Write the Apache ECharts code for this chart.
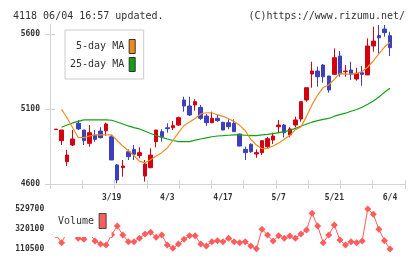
<!DOCTYPE html>
<html>
<head>
<meta charset="utf-8">
<script src="https://cdn.jsdelivr.net/npm/echarts@6/dist/echarts.min.js"></script>
<style>
  html, body { margin: 0; padding: 0; background: #fff; }
  #chart { width: 420px; height: 259px; }
</style>
</head>
<body>
<div id="chart"></div>
<script>
// 日付ラベル（10本ごとに表示）
const dates = ['3/5','3/6','3/7','3/10','3/11','3/12','3/13','3/14','3/17','3/18',
  '3/19','3/21','3/24','3/25','3/26','3/27','3/28','3/31','4/1','4/2',
  '4/3','4/4','4/7','4/8','4/9','4/10','4/11','4/14','4/15','4/16',
  '4/17','4/21','4/22','4/23','4/24','4/25','4/28','4/30','5/1','5/2',
  '5/7','5/8','5/9','5/12','5/13','5/14','5/15','5/16','5/19','5/20',
  '5/21','5/22','5/23','5/26','5/27','5/28','5/29','5/30','6/2','6/3','6/4'];

const opens  = [4963,4889,4749,4860,5005,4960,4871,4927,4953,4955,
  4915,4727,4709,4815,4831,4789,4653,4709,4882,4949,
  4975,4975,4993,5160,5120,5127,5111,5053,5009,5038,
  5011,5009,5005,4933,4831,4865,4800,4809,4849,4893,
  4982,4993,4927,4993,5033,5160,5333,5353,5393,5320,
  5331,5453,5349,5360,5300,5342,5327,5520,5589,5633,5589];
const closes = [4966,4960,4793,4900,4967,4889,4942,4898,4909,5000,
  4760,4627,4720,4782,4798,4809,4733,4793,4960,4915,
  4969,4989,5042,5120,5060,5149,5038,5009,5038,5022,
  4960,4982,4949,4853,4809,4815,4809,4889,4902,4920,
  4993,4942,4967,5027,5149,5242,5353,5315,5315,5227,
  5442,5333,5353,5331,5338,5331,5520,5553,5575,5609,5509];
const lows   = [4963,4860,4720,4853,4960,4860,4849,4882,4904,4922,
  4760,4605,4649,4760,4760,4771,4616,4705,4845,4882,
  4942,4960,4987,5082,5053,5089,5027,4987,5005,5015,
  4958,4965,4949,4850,4760,4809,4775,4793,4833,4867,
  4938,4911,4911,4978,5015,5149,5242,5249,5275,5209,
  5327,5315,5315,5293,5289,5255,5327,5482,5471,5582,5453];
const highs  = [4966,4960,4827,4960,5027,4960,4993,4960,4978,5009,
  4927,4733,4760,4831,4860,4845,4760,4838,4960,4965,
  5005,5020,5049,5182,5182,5165,5127,5067,5082,5060,
  5015,5031,5031,4935,4849,4871,4831,4889,4915,4942,
  5027,5000,4978,5049,5149,5242,5415,5382,5400,5320,
  5504,5487,5393,5415,5375,5387,5571,5649,5660,5660,5615];

const ma5  = ['-',5098,5040,4975,4910,4909,4920,4927,4927,4927,
  4927,4890,4853,4822,4790,4751,4742,4762,4787,4809,
  4840,4890,4943,4990,5013,5037,5067,5075,5075,5062,
  5051,5035,5017,4991,4955,4898,4860,4835,4837,4853,
  4873,4898,4923,4962,4980,5051,5129,5193,5243,5260,
  5298,5338,5333,5333,5337,5350,5380,5420,5467,5513,5545];
const ma25 = ['-',4978,4993,5007,5018,5027,5027,5027,5027,5027,
  5025,5013,5000,4987,4976,4967,4952,4937,4923,4911,
  4900,4890,4883,4882,4882,4892,4900,4907,4915,4920,
  4922,4925,4927,4927,4925,4923,4923,4927,4931,4936,
  4942,4949,4957,4971,4985,5000,5012,5023,5031,5037,
  5052,5062,5072,5085,5097,5112,5132,5153,5180,5211,5238];

const volumes = [260000,175000,290000,270000,222000,212000,280000,194000,163000,152000,
  260000,351000,257000,187000,187000,222000,268000,286000,233000,257000,
  152000,118000,163000,212000,250000,250000,163000,142000,187000,198000,
  187000,222000,187000,177000,187000,142000,112000,317000,257000,194000,
  250000,222000,247000,222000,268000,310000,485000,351000,177000,257000,
  362000,205000,152000,187000,177000,194000,529700,474000,317000,198000,110500];

const priceTicks = [4600, 5100, 5600];
const volTicks = [110500, 320100, 529700];

const mono = 'DejaVu Sans Mono';
const axisGray = '#d4d4d4';
const labelStyle = { fontFamily: mono, fontSize: 8, fontWeight: 'bold', color: '#333' };
const plain = v => String(v);

const chart = echarts.init(document.getElementById('chart'), null, { renderer: 'canvas' });

const candleData = opens.map((o, i) => [o, closes[i], lows[i], highs[i]]);

chart.setOption({
  animation: false,
  backgroundColor: '#fff',
  title: [
    { text: '4118 06/04 16:57 updated.', left: 8, top: 6,
      textStyle: { fontFamily: mono, fontSize: 10, fontWeight: 'normal', color: '#333' } },
    { text: '(C)https://www.rizumu.net/', right: 10, top: 6,
      textStyle: { fontFamily: mono, fontSize: 10, fontWeight: 'normal', color: '#333' } }
  ],
  legend: [
    {
      data: ['5-day MA', '25-day MA'],
      orient: 'vertical', align: 'right',
      left: 65, top: 30,
      padding: [9, 8, 7, 5],
      itemGap: 3, itemWidth: 6, itemHeight: 14,
      icon: 'rect',
      selectedMode: false,
      backgroundColor: '#fff',
      borderColor: '#ccc', borderWidth: 1,
      itemStyle: { borderColor: '#333', borderWidth: 1 },
      formatter: name => name.padStart(9, ' '),
      textStyle: { fontFamily: mono, fontSize: 10, color: '#333' }
    },
    {
      data: ['Volume'],
      align: 'right',
      left: 53, top: 205,
      padding: [8, 5, 8, 5],
      itemWidth: 7, itemHeight: 15,
      icon: 'rect',
      selectedMode: false,
      backgroundColor: '#fff',
      borderWidth: 0,
      itemStyle: { borderColor: '#444', borderWidth: 1 },
      textStyle: { fontFamily: mono, fontSize: 10, color: '#333' }
    }
  ],
  grid: [
    { left: 50, width: 355, top: 25, height: 159 },      // 枠と目盛
    { left: 53.2, width: 339.6, top: 25, height: 159 },  // ローソク足
    { left: 53.2, width: 339.6, top: 209, height: 40 }   // 出来高
  ],
  xAxis: [
    { gridIndex: 0, type: 'value', position: 'bottom', min: 0, max: 11, interval: 1,
      axisLine: { lineStyle: { color: axisGray } },
      axisTick: { length: 5, lineStyle: { color: axisGray } },
      axisLabel: { show: false }, splitLine: { show: false } },
    { gridIndex: 0, type: 'value', position: 'bottom', min: 0, max: 11, interval: 1,
      axisLine: { lineStyle: { color: axisGray } },
      axisTick: { inside: true, length: 4, lineStyle: { color: axisGray } },
      axisLabel: { show: false }, splitLine: { show: false } },
    { gridIndex: 1, type: 'category', data: dates, boundaryGap: true,
      axisLine: { show: false }, axisTick: { show: false },
      axisLabel: Object.assign({ interval: (i) => i > 0 && i % 10 === 0, margin: 10 }, labelStyle),
      splitLine: { show: false } },
    { gridIndex: 2, type: 'category', data: dates, boundaryGap: true, show: false }
  ],
  yAxis: [
    { gridIndex: 0, type: 'value', position: 'left', min: 4600, max: 5660,
      axisLine: { show: true, lineStyle: { color: axisGray } },
      axisTick: { show: true, length: 5, customValues: priceTicks, lineStyle: { color: axisGray } },
      axisLabel: Object.assign({ customValues: priceTicks, margin: 10, formatter: plain }, labelStyle),
      splitLine: { show: false } },
    { gridIndex: 0, type: 'value', position: 'left', min: 4600, max: 5660,
      axisLine: { show: true, lineStyle: { color: axisGray } },
      axisTick: { show: true, inside: true, length: 5, customValues: priceTicks, lineStyle: { color: axisGray } },
      axisLabel: { show: false }, splitLine: { show: false } },
    { gridIndex: 1, type: 'value', min: 4600, max: 5660, show: false, splitLine: { show: false } },
    { gridIndex: 2, type: 'value', position: 'left', min: 110500, max: 529700,
      axisLine: { show: false }, axisTick: { show: false },
      axisLabel: Object.assign({ customValues: volTicks, margin: 9, formatter: plain }, labelStyle),
      splitLine: { show: false } }
  ],
  series: [
    {
      name: 'price', type: 'candlestick', xAxisIndex: 2, yAxisIndex: 2,
      data: candleData, barWidth: 4,
      itemStyle: { color: '#d40010', color0: '#3c40bc', borderColor: '#d40010', borderColor0: '#3c40bc', borderWidth: 1 }
    },
    {
      name: '25-day MA', type: 'line', xAxisIndex: 2, yAxisIndex: 2,
      data: ma25, showSymbol: false, symbol: 'none', color: '#14a014',
      lineStyle: { width: 1.2, color: '#14a014' }
    },
    {
      name: '5-day MA', type: 'line', xAxisIndex: 2, yAxisIndex: 2,
      data: ma5, showSymbol: false, symbol: 'none', color: '#f08c1e',
      lineStyle: { width: 1.2, color: '#f08c1e' }
    },
    {
      name: 'Volume', type: 'line', xAxisIndex: 3, yAxisIndex: 3,
      data: volumes, symbol: 'diamond', symbolSize: 7, showAllSymbol: true, color: '#ff6464',
      lineStyle: { width: 1, color: '#ff5c5c' },
      itemStyle: { color: '#ff5c5c' }
    }
  ]
});
</script>
</body>
</html>
